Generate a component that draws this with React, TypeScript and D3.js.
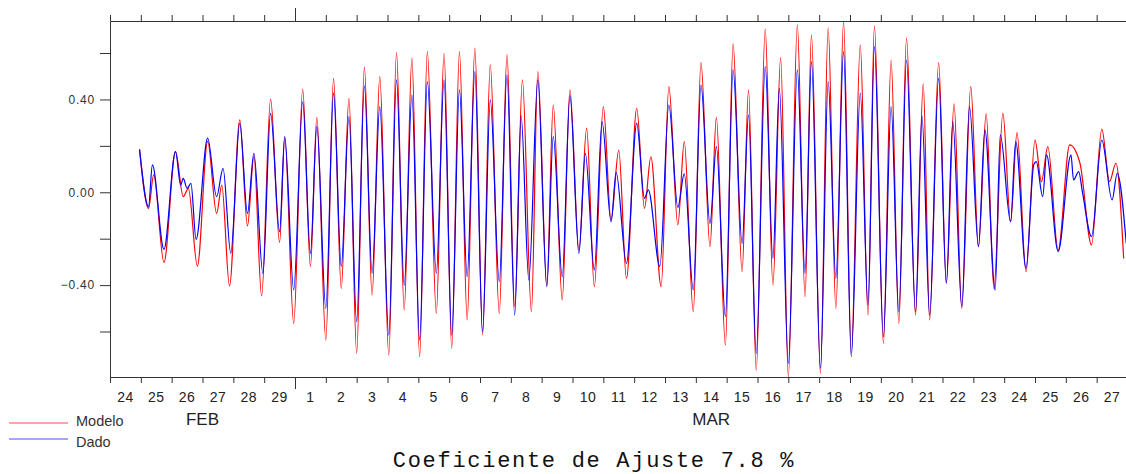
import React, { useEffect, useRef } from 'react'
import * as d3 from 'd3'

// extremos: [horas desde 24/02 00h, nivel]
const modelo: [number, number][] = [
  [23, 0.185], [30, -0.069], [34, 0.075], [42, -0.302], [51, 0.175], [57, -0.019], [61, 0.017], [68, -0.318],
  [76, 0.219], [83, -0.091], [87, 0.031], [93, -0.404], [101, 0.312], [107, -0.145], [112, 0.155], [118, -0.447],
  [125, 0.401], [132, -0.216], [136, 0.235], [143, -0.565], [150, 0.444], [156, -0.32], [161, 0.323], [168, -0.637],
  [174, 0.491], [180, -0.414], [186, 0.405], [192, -0.694], [198, 0.539], [204, -0.443], [210, 0.498], [217, -0.701],
  [223, 0.602], [229, -0.507], [235, 0.578], [241, -0.708], [247, 0.606], [254, -0.522], [260, 0.599], [266, -0.672],
  [272, 0.606], [278, -0.55], [284, 0.621], [290, -0.615], [296, 0.549], [303, -0.522], [309, 0.592], [315, -0.493],
  [321, 0.484], [328, -0.515], [333, 0.52], [340, -0.4], [345, 0.376], [352, -0.464], [358, 0.441], [365, -0.249],
  [371, 0.276], [377, -0.407], [384, 0.369], [390, -0.119], [396, 0.182], [402, -0.371], [410, 0.362], [416, -0.069],
  [421, 0.153], [429, -0.407], [435, 0.455], [442, -0.141], [447, 0.218], [454, -0.515], [460, 0.559], [467, -0.234],
  [472, 0.323], [479, -0.658], [485, 0.639], [492, -0.342], [497, 0.441], [503, -0.766], [510, 0.703], [516, -0.4],
  [522, 0.58], [528, -0.795], [535, 0.721], [541, -0.45], [546, 0.678], [553, -0.78], [559, 0.707], [565, -0.5],
  [571, 0.735], [577, -0.694], [584, 0.635], [590, -0.529], [595, 0.717], [602, -0.651], [608, 0.57], [614, -0.565],
  [620, 0.664], [627, -0.529], [633, 0.467], [638, -0.55], [645, 0.559], [651, -0.392], [657, 0.381], [663, -0.5],
  [670, 0.455], [676, -0.234], [682, 0.338], [688, -0.414], [695, 0.341], [701, -0.127], [706, 0.257], [713, -0.342],
  [720, 0.225], [725, 0.046], [730, 0.197], [738, -0.249], [747, 0.204], [755, 0.125], [764, -0.227], [772, 0.272],
  [778, 0.046], [783, 0.125], [789, -0.285],
]

const dado: [number, number][] = [
  [23, 0.185], [30, -0.062], [33, 0.118], [42, -0.246], [51, 0.175], [55, 0.031], [57, 0.06], [60, 0.017],
  [63, 0.038], [67, -0.203], [76, 0.233], [83, -0.019], [88, 0.103], [94, -0.263], [101, 0.297], [107, -0.091],
  [112, 0.168], [119, -0.349], [125, 0.34], [132, -0.17], [136, 0.24], [143, -0.421], [150, 0.39], [156, -0.263],
  [161, 0.283], [168, -0.5], [174, 0.427], [180, -0.32], [186, 0.326], [192, -0.558], [198, 0.458], [204, -0.349],
  [210, 0.369], [217, -0.615], [223, 0.484], [229, -0.4], [235, 0.419], [241, -0.637], [247, 0.477], [254, -0.349],
  [260, 0.484], [266, -0.615], [272, 0.441], [278, -0.364], [284, 0.52], [290, -0.601], [296, 0.398], [303, -0.385],
  [309, 0.506], [315, -0.529], [320, 0.329], [326, -0.378], [333, 0.484], [340, -0.407], [345, 0.24], [352, -0.364],
  [358, 0.415], [365, -0.263], [370, 0.168], [377, -0.335], [383, 0.304], [390, -0.127], [394, 0.085], [402, -0.306],
  [410, 0.297], [416, -0.026], [419, 0.01], [428, -0.32], [435, 0.376], [442, -0.065], [447, 0.079], [454, -0.421],
  [460, 0.462], [467, -0.134], [472, 0.197], [479, -0.536], [485, 0.527], [492, -0.22], [497, 0.333], [503, -0.694],
  [510, 0.541], [516, -0.285], [521, 0.448], [528, -0.737], [535, 0.527], [541, -0.349], [546, 0.563], [553, -0.759],
  [559, 0.477], [565, -0.371], [571, 0.606], [577, -0.708], [584, 0.427], [590, -0.486], [595, 0.628], [602, -0.622],
  [608, 0.369], [614, -0.515], [620, 0.57], [627, -0.515], [632, 0.329], [638, -0.529], [645, 0.491], [651, -0.392],
  [656, 0.304], [663, -0.493], [669, 0.369], [676, -0.234], [681, 0.269], [689, -0.421], [693, 0.247], [701, -0.127],
  [705, 0.218], [713, -0.328], [719, 0.118], [721, 0.132], [726, -0.019], [729, 0.161], [738, -0.256], [748, 0.161],
  [750, 0.053], [754, 0.089], [757, -0.002], [764, -0.191], [772, 0.225], [780, -0.033], [784, 0.082], [791, -0.22],
]

const dayLabels = [
  '24', '25', '26', '27', '28', '29',
  '1', '2', '3', '4', '5', '6', '7', '8', '9', '10', '11', '12', '13', '14',
  '15', '16', '17', '18', '19', '20', '21', '22', '23', '24', '25', '26', '27',
]
const monthNames = ['FEB', 'MAR']
const monthStartDay = [0, 6]
const yTicks = [-0.6, -0.4, -0.2, 0, 0.2, 0.4, 0.6]
const yLabeled = [-0.4, 0, 0.4]
const series = ['Modelo', 'Dado']
const colors = ['#ff0000', '#0000ff']

const App = () => {
  const ref = useRef<SVGSVGElement>(null)

  useEffect(() => {
    const width = 1126
    const height = 474
    const left = 110, top = 21, bottom = 377
    const nDays = dayLabels.length
    const svg = d3.select(ref.current)
    svg.selectAll('*').remove()

    const x = d3.scaleLinear().domain([0, nDays * 24]).range([left, 1127.5])
    const y = d3.scaleLinear().domain([-0.796, 0.738]).range([bottom, top])

    svg.append('rect').attr('width', width).attr('height', height).attr('fill', '#fff')

    svg.append('clipPath').attr('id', 'plot')
      .append('rect').attr('x', left).attr('y', top).attr('width', width - left).attr('height', bottom - top)

    const line = d3.line<[number, number]>()
      .x(d => x(d[0]))
      .y(d => y(d[1]))
      .curve(d3.curveMonotoneX)

    const g = svg.append('g').attr('clip-path', 'url(#plot)')
    ;[modelo, dado].forEach((s, i) => {
      g.append('path')
        .attr('d', line(s))
        .attr('fill', 'none')
        .attr('stroke', colors[i])
        .attr('stroke-width', 1.2)
    })

    const axisColor = '#333'
    const dayTicks = d3.range(0, nDays * 24 + 1, 24)
    const monthTicks = monthStartDay.map(d => d * 24)

    // eixo inferior e superior
    const xb = svg.append('g').attr('transform', `translate(0,${bottom})`)
      .call(d3.axisBottom(x).tickValues(dayTicks).tickSize(6).tickSizeOuter(0).tickFormat(() => ''))
    const xt = svg.append('g').attr('transform', `translate(0,${top})`)
      .call(d3.axisTop(x).tickValues(dayTicks).tickSize(6).tickSizeOuter(0).tickFormat(() => ''))
    xb.selectAll('.tick line').filter((d: any) => monthTicks.includes(d) && d > 0).attr('y2', 12)
    xt.selectAll('.tick line').filter((d: any) => monthTicks.includes(d) && d > 0).attr('y2', -13)

    const ya = svg.append('g').attr('transform', `translate(${left},0)`)
      .call(d3.axisLeft(y).tickValues(yTicks).tickSize(10).tickSizeOuter(0).tickPadding(5)
        .tickFormat((d: any) => yLabeled.includes(d) ? d3.format('.2f')(d).replace('-', '\u2212') : ''))
    ya.selectAll('text')
      .attr('font-family', 'Liberation Sans, Arial, sans-serif')
      .attr('font-size', 12)
      .attr('letter-spacing', 0.8)
      .attr('fill', '#333')

    ;[xb, xt, ya].forEach(a => {
      a.select('.domain').attr('stroke', axisColor)
      a.selectAll('.tick line').attr('stroke', axisColor)
    })

    svg.append('g').selectAll('text')
      .data(dayLabels)
      .join('text')
      .attr('x', (d, i) => x(i * 24 + 12))
      .attr('y', 402)
      .attr('text-anchor', 'middle')
      .attr('font-family', 'Liberation Sans, Arial, sans-serif')
      .attr('font-size', 14)
      .attr('letter-spacing', 0.5)
      .attr('fill', '#222')
      .text(d => d)

    svg.append('g').selectAll('text')
      .data(monthNames)
      .join('text')
      .attr('x', (d, i) => x(((monthStartDay[i] + (monthStartDay[i + 1] ?? nDays)) / 2) * 24))
      .attr('y', 425)
      .attr('text-anchor', 'middle')
      .attr('font-family', 'Liberation Sans, Arial, sans-serif')
      .attr('font-size', 17)
      .attr('fill', '#222')
      .text(d => d)

    // legenda
    const leg = svg.append('g')
    series.forEach((s, i) => {
      const ly = 423 + i * 16
      leg.append('line')
        .attr('x1', 9).attr('x2', 68).attr('y1', ly).attr('y2', ly)
        .attr('stroke', colors[i]).attr('stroke-opacity', 0.7)
      leg.append('text')
        .attr('x', 76).attr('y', ly + 3 + i * 5)
        .attr('font-family', 'Liberation Sans, Arial, sans-serif')
        .attr('font-size', 14.5)
        .attr('fill', '#333')
        .text(s)
    })

    svg.append('text')
      .attr('x', 594)
      .attr('y', 467)
      .attr('text-anchor', 'middle')
      .attr('font-family', 'Liberation Mono, Courier New, monospace')
      .attr('font-size', 22)
      .attr('letter-spacing', 1.7)
      .attr('fill', '#111')
      .text('Coeficiente de Ajuste 7.8 %')
  }, [])

  return (
    <svg ref={ref} width={1126} height={474}
      style={{ position: 'absolute', left: 0, top: 0, display: 'block' }} />
  )
}

export default App
